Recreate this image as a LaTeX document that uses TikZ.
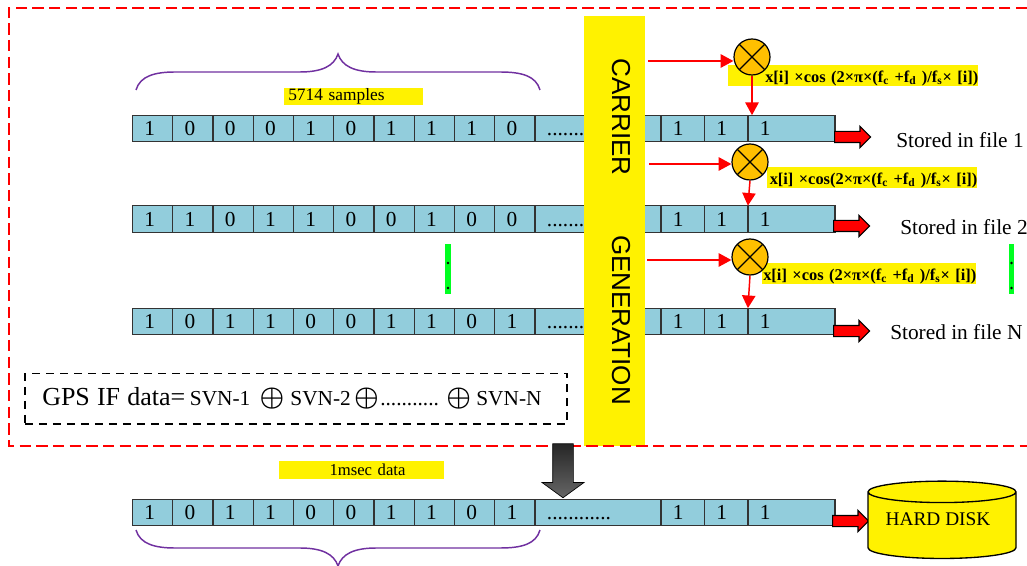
\documentclass[tikz,border=0pt]{standalone}
\usepackage{xcolor}
\usepackage{fontspec}
\setmainfont{Liberation Serif}
\setsansfont{Liberation Sans}
\usepackage{tikz}
\usetikzlibrary{arrows.meta,positioning,shapes.geometric,shapes.arrows}
\definecolor{cCell}{HTML}{92CDDC}
\definecolor{cEdge}{HTML}{333333}
\definecolor{cBrace}{HTML}{7030A0}
\definecolor{cMix}{HTML}{FFC000}
\definecolor{cGreen}{HTML}{00FF21}
\newcommand{\xorsym}{{\fontsize{20.5}{20.5}\selectfont\boldmath$\oplus$}}
\tikzset{
  bitcell/.style={draw=cEdge, line width=0.9pt, fill=cCell, outer sep=0pt, inner ysep=0pt,
                  inner xsep=9pt, text width=#1, align=left, minimum height=20pt,
                  text height=11pt, text depth=0pt, font=\fontsize{16}{16}\selectfont},
  band/.style={fill=yellow, inner sep=0pt},
  mixer/.style={circle, draw=black, fill=cMix, line width=0.9pt, minimum size=27pt, inner sep=0pt,
                path picture={\draw[line width=0.9pt] (path picture bounding box.north west) -- (path picture bounding box.south east)
                  (path picture bounding box.north east) -- (path picture bounding box.south west);}},
  redflow/.style={-{Triangle[length=9.5pt,width=10pt]}, line width=1.1pt, draw=red},
  blockarrow/.style={single arrow, draw=black, fill=red, line width=0.9pt, minimum height=27pt,
                     text height=7.5pt, text depth=0pt, text width=0pt, single arrow head extend=3.75pt,
                     single arrow tip angle=90, inner sep=0pt, anchor=west},
  storedlbl/.style={font=\fontsize{16}{16}\selectfont, inner sep=0pt, anchor=west},
  productlbl/.style={band, font=\fontsize{12.3}{14}\selectfont\bfseries, align=right, anchor=north west,
                     text height=12.75pt, text depth=2.65pt},
  gencap/.style={rotate=-90, font=\sffamily\fontsize{19.5}{20}\selectfont, inner sep=0pt},
  brace/.style={draw=cBrace, line width=1.1pt},
  vdots/.style={fill=cGreen, minimum width=4.2pt, minimum height=37pt, inner sep=0pt},
  framebox/.style={draw=red, line width=1.2pt, dash pattern=on 8.5pt off 4pt},
}
\begin{document}
\begin{tikzpicture}[x=0.75pt,y=-0.75pt]
  \useasboundingbox (0,0) rectangle (1027,566);

  % sample rows
  \foreach \ry/\gap/\bits [count=\r] in {128.5/{.......}/{1,0,0,0,1,0,1,1,1,0},
                                         219/{.......}/{1,1,0,1,1,0,0,1,0,0},
                                         321.5/{.......}/{1,0,1,1,0,0,1,1,0,1},
                                         512.5/{............}/{1,0,1,1,0,0,1,1,0,1}}{
    \foreach \b [count=\c] in \bits
      \node[bitcell=12.2pt] (cell\r-\c) at ({152.6+40.25*(\c-1)},\ry) {\b};
    \node[bitcell=76.5pt, right=0pt of cell\r-10] (gap\r) {\gap};
    \node[bitcell=14.6pt, right=0pt of gap\r] (tail\r-1) {1};
    \node[bitcell=14.6pt, right=0pt of tail\r-1] (tail\r-2) {1};
    \node[bitcell=47.25pt, right=0pt of tail\r-2] (tail\r-3) {1};
  }

  % carrier bar
  \node[band, minimum width=46pt, minimum height=322.5pt] (bar) at (614.5,231) {};
  \node[gencap] (carrier) at (621,117) {CARRIER};
  \node[gencap] (generation) at (621,320) {GENERATION};

  % products
  \node[productlbl, text width=187.5pt] (prod1) at (728,65) {x[i] ×cos (2×π×(f\textsubscript{c} +f\textsubscript{d} )/f\textsubscript{s}× [i])};
  \node[productlbl, text width=157.5pt] (prod2) at (767,167) {x[i] ×cos(2×π×(f\textsubscript{c} +f\textsubscript{d} )/f\textsubscript{s}× [i])};
  \node[productlbl, text width=160.5pt] (prod3) at (762,263) {x[i] ×cos (2×π×(f\textsubscript{c} +f\textsubscript{d} )/f\textsubscript{s}× [i])};
  \node[mixer] (mix1) at (752,57) {};
  \node[mixer] (mix2) at (750,162) {};
  \node[mixer] (mix3) at (750,257) {};

  \coordinate (src1) at (648,61);
  \coordinate (src2) at (649,164);
  \coordinate (src3) at (647,260);
  \draw[redflow] (src1) -- (src1 -| mix1.west);
  \draw[redflow] (src2) -- (src2 -| mix2.west);
  \draw[redflow] (src3) -- (src3 -| mix3.west);
  \draw[redflow] (mix1.south) -- (mix1.south |- tail1-3.north);
  \draw[redflow] (mix2.south) -- (tail2-3.north west);
  \draw[redflow] (mix3.south) -- (tail3-3.north west);

  % stored files
  \node[blockarrow] (out1) at (834,137) {};
  \node[blockarrow] (out2) at (833,226) {};
  \node[blockarrow] (out3) at (833,331) {};
  \node[blockarrow] (out4) at (832,521) {};
  \node[storedlbl] (file1) at (896,140) {Stored in file 1};
  \node[storedlbl] (file2) at (900,227) {Stored in file 2};
  \node[storedlbl] (fileN) at (890,332) {Stored in file N};

  % gap marks
  \node[vdots] (skipl) at (448,269) {};
  \node[vdots] (skipr) at (1011.5,269) {};
  \foreach \sx in {448,1011.5}
    \foreach \sy in {263,288}
      \fill (\sx,\sy) circle (1.1pt);

  % sample counts
  \draw[brace] (136,90) .. controls (140,76) and (155,72) .. (175,72) -- (300,72)
    .. controls (322,72) and (334,66) .. (338,54) .. controls (342,66) and (354,72) .. (376,72)
    -- (500,72) .. controls (522,72) and (536,76) .. (540,90);
  \draw[brace] (136,530) .. controls (140,544) and (155,548) .. (175,548) -- (300,548)
    .. controls (322,548) and (334,554) .. (338,566) .. controls (342,554) and (354,548) .. (376,548)
    -- (500,548) .. controls (522,548) and (536,544) .. (540,530);
  \node[band, anchor=north west, text width=98pt, inner xsep=3pt, align=left, minimum height=13.3pt,
        font=\fontsize{13}{13}\selectfont] (count) at (284,87.3) {5714 samples};
  \node[band, text width=123.7pt, minimum height=13.5pt, align=center,
        font=\fontsize{12.5}{13}\selectfont] (msec) at (361.5,470) {\hspace{9pt}1msec data};

  % sum
  \node[draw=black, line width=1.4pt, dash pattern=on 6pt off 4.5pt, anchor=north west, text width=380.5pt,
        inner xsep=13pt, inner ysep=0pt, minimum height=38pt, align=left, font=\fontsize{16}{16}\selectfont] (sum) at (24,372.5)
        {{\fontsize{19.5}{20}\selectfont GPS IF data=}\hspace{3.5pt}SVN-1\hspace{7pt}\xorsym\hspace{4.5pt}SVN-2\hspace{2.5pt}\xorsym\hspace{1pt}...........\hspace{5.5pt}\xorsym\hspace{4pt}SVN-N};

  % capture frame and merged output
  \draw[framebox] (1027,8) -- (9,8) -- (9,446) -- (1027,446);
  \node[single arrow, shape border rotate=270, draw=black, line width=0.5pt, top color=black!85,
        bottom color=black!60, minimum height=40.5pt, text height=0pt, text depth=0pt, text width=15pt,
        single arrow head extend=8pt, single arrow tip angle=108, inner sep=0pt] (merge) at (563,467) {};
  \node[cylinder, shape border rotate=90, aspect=0.19, draw=black, line width=1pt, fill=yellow,
        cylinder uses custom fill, cylinder body fill=yellow, cylinder end fill=yellow!90!white,
        minimum width=111pt, minimum height=58pt, inner sep=0pt, font=\fontsize{14.5}{14.5}\selectfont] (disk) at (942,525.5) {\raisebox{9pt}{HARD DISK\hspace{6pt}}};
\end{tikzpicture}
\end{document}
